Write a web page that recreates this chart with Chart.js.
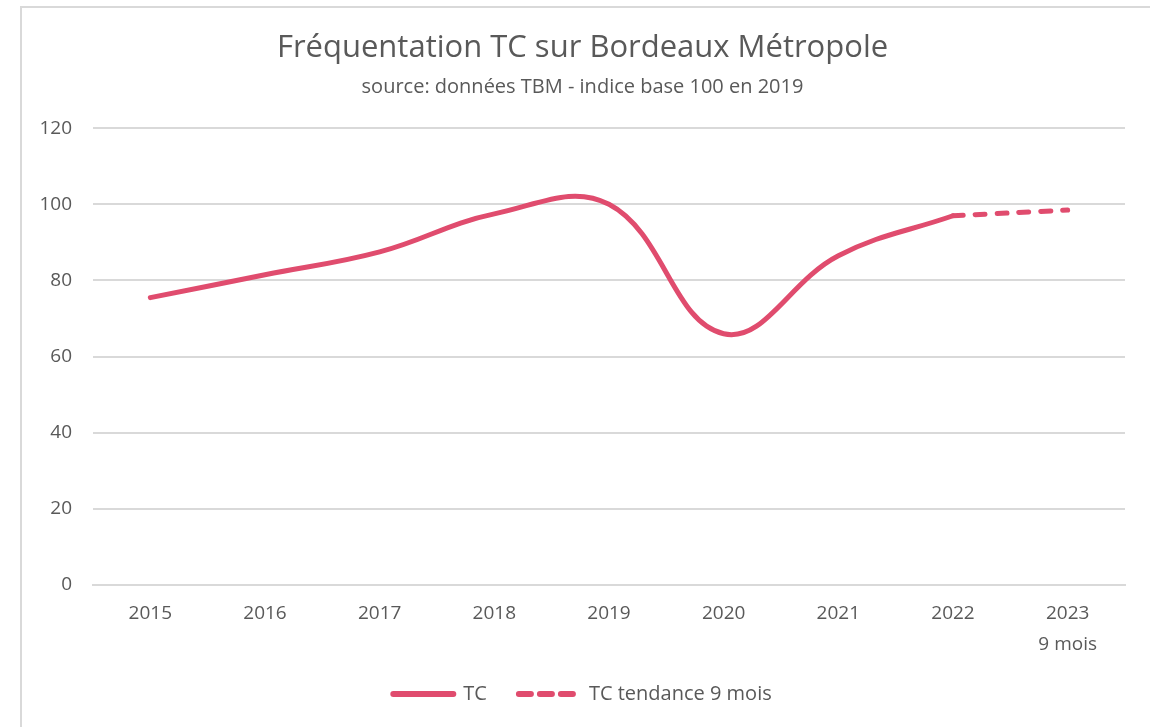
<!DOCTYPE html>
<html>
<head>
<meta charset="utf-8">
<script src="https://cdn.jsdelivr.net/npm/chart.js@4"></script>
<style>
  html, body { margin: 0; padding: 0; background: #fff; overflow: hidden; }
  #frame { position: absolute; left: 20px; top: 6px; width: 1200px; height: 800px; border: 2px solid #d9d9d9; }
  #wrap { position: absolute; left: 0; top: 0; width: 1150px; height: 727px; }
</style>
</head>
<body>
<div id="frame"></div>
<div id="wrap"><canvas id="chart"></canvas></div>
<script>
const years = ['2015', '2016', '2017', '2018', '2019', '2020', '2021', '2022', ['2023', '9 mois']];
const tc = [75.5, 81.5, 87.5, 97.5, 100, 66, 86.5, 97, null];
const tcTendance = [null, null, null, null, null, null, null, 97, 98.5];
const yTicks = [0, 20, 40, 60, 80, 100, 120];

const pink = '#e04c6e';
const grey = '#595959';
const font = '"Open Sans", Lato, sans-serif';

const ctx = document.querySelector('#chart').getContext('2d');

new Chart(ctx, {
    type: 'line',
    data: {
        labels: years,
        datasets: [
            {
                label: 'TC',
                data: tc,
                borderColor: pink,
                backgroundColor: pink,
                borderWidth: 5,
                borderCapStyle: 'round',
                tension: 0.4,
                pointRadius: 0
            },
            {
                label: 'TC tendance 9 mois',
                data: tcTendance,
                borderColor: pink,
                backgroundColor: pink,
                borderWidth: 5,
                borderDash: [10, 12],
                borderCapStyle: 'round',
                tension: 0.4,
                pointRadius: 0
            }
        ]
    },
    options: {
        responsive: true,
        maintainAspectRatio: false,
        animation: false,
        layout: { padding: { left: 40, right: 25, bottom: 13 } },
        plugins: {
            title: {
                display: true,
                text: 'Fréquentation TC sur Bordeaux Métropole',
                color: grey,
                font: { family: font, size: 31, weight: 'normal' },
                padding: { top: 30, bottom: 8 }
            },
            subtitle: {
                display: true,
                text: 'source: données TBM - indice base 100 en 2019',
                color: grey,
                font: { family: font, size: 20 },
                padding: { top: 0, bottom: 29 }
            },
            legend: {
                position: 'bottom',
                labels: {
                    color: grey,
                    font: { family: font, size: 20 },
                    usePointStyle: true,
                    pointStyleWidth: 60,
                    boxHeight: 6,
                    padding: 32,
                    generateLabels: chart => chart.data.datasets.map((ds, i) => ({
                        text: ds.label,
                        datasetIndex: i,
                        fillStyle: ds.borderColor,
                        strokeStyle: ds.borderColor,
                        fontColor: grey,
                        lineWidth: 6,
                        lineCap: 'round',
                        lineDash: ds.borderDash ? [12, 9] : [],
                        pointStyle: 'line',
                        hidden: false
                    }))
                }
            },
            tooltip: { enabled: false }
        },
        scales: {
            x: {
                offset: true,
                afterFit: s => { s.height = 67; },
                grid: { display: false, drawTicks: false },
                border: { display: true, color: '#d9d9d9', width: 2 },
                ticks: {
                    color: grey,
                    font: { family: font, size: 19, lineHeight: 1.65 },
                    padding: 13,
                    maxRotation: 0
                }
            },
            y: {
                min: 0,
                max: 120,
                afterBuildTicks: s => { s.ticks = yTicks.map(v => ({ value: v })); },
                afterFit: s => { s.width = 53; },
                grid: { color: '#d9d9d9', lineWidth: 2, drawTicks: false },
                border: { display: false },
                ticks: {
                    color: grey,
                    font: { family: font, size: 19 },
                    padding: 21
                }
            }
        }
    }
});
</script>
</body>
</html>
